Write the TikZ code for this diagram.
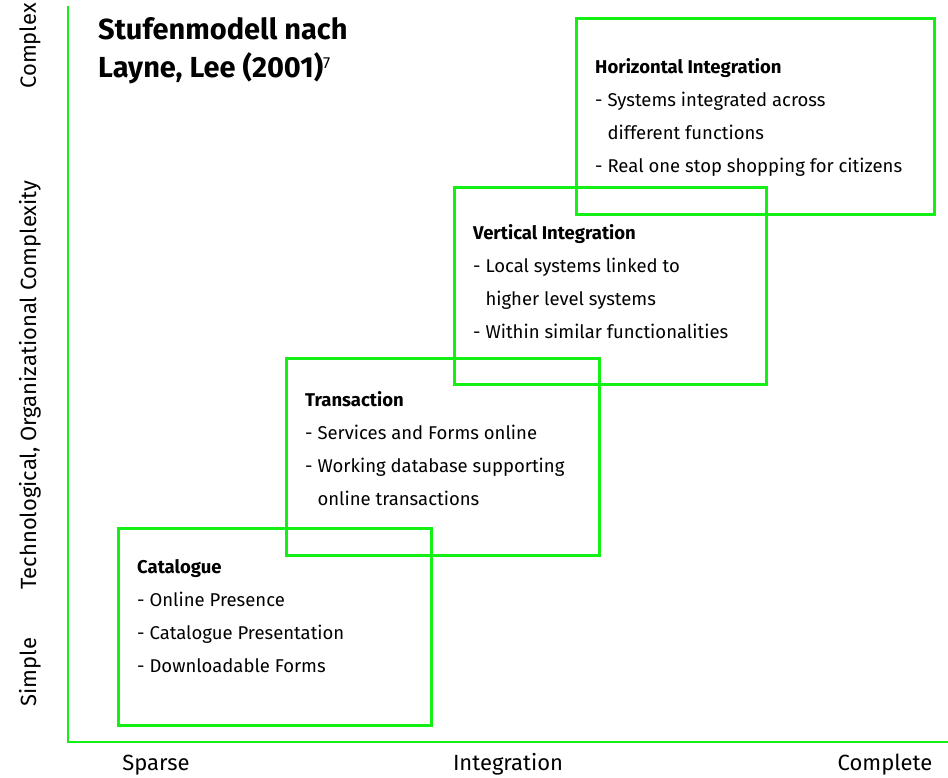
\documentclass[tikz,border=0pt]{standalone}
\usepackage{fontspec}
\setmainfont{Fira Sans}
\usetikzlibrary{positioning}
\definecolor{stagegreen}{RGB}{20,240,20}
\tikzset{
    stagebox/.style={draw=stagegreen, line width=2.6pt, minimum width=#1, inner sep=0pt, anchor=north west},
    stagetext/.style={anchor=base west, align=left, inner sep=0pt, font=\fontsize{18.5}{33}\selectfont},
    axislabel/.style={font=\fontsize{22}{26}\selectfont, inner sep=0pt}
}
\newcommand{\contline}{\phantom{- }}

\begin{document}
\begin{tikzpicture}[x=1pt, y=-1pt]
    \begin{scope}
        \useasboundingbox (0,0) rectangle (948,777);

        % Axes
        \coordinate (top) at (68,6);
        \coordinate (origin) at (68,742);
        \coordinate (right) at (948,742);
        \draw [stagegreen, line width=2.8pt] (top) -- (origin) -- (right);

        % Title (base = last line)
        \node [anchor=base west, align=left, inner sep=0pt, font=\fontsize{29}{38}\selectfont\bfseries] (title) at (98,77)
            {Stufenmodell nach\\Layne, Lee (2001)\raisebox{9pt}{\normalfont\fontsize{16}{16}\selectfont 7}};

        % Vertical axis labels
        \node [axislabel, rotate=90] (complex) at (30,46) {Complex};
        \node [axislabel, rotate=90] (complexity) at (30,385) {Technological, Organizational Complexity};
        \node [axislabel, rotate=90] (simple) at (30,672) {Simple};

        % Horizontal axis labels
        \node [axislabel, anchor=base] (sparse) at (156,770) {Sparse};
        \node [axislabel, anchor=base] (integration) at (508,770) {Integration};
        \node [axislabel, anchor=base] (complete) at (885,770) {Complete};

        % Stage boxes
        \node [stagebox=313pt, minimum height=197pt] (catalogue) at (117,527) {};
        \node [stagebox=313pt, minimum height=197pt] (transaction) at (285,357) {};
        \node [stagebox=312pt, minimum height=197pt] (vertical) at (453,186) {};
        \node [stagebox=358pt, minimum height=196pt] (horizontal) at (575,17) {};

        % Stage texts (base = last line)
        \node [stagetext] (catalogueText) at (137,672.5)
            {\textbf{Catalogue}\\- Online Presence\\- Catalogue Presentation\\- Downloadable Forms};
        \node [stagetext] (transactionText) at (305,505)
            {\textbf{Transaction}\\- Services and Forms online\\- Working database supporting\\\contline online transactions};
        \node [stagetext] (verticalText) at (473,338.5)
            {\textbf{Vertical Integration}\\- Local systems linked to\\\contline higher level systems\\- Within similar functionalities};
        \node [stagetext] (horizontalText) at (595,172.5)
            {\textbf{Horizontal Integration}\\- Systems integrated across\\\contline different functions\\- Real one stop shopping for citizens};
    \end{scope}
\end{tikzpicture}
\end{document}
